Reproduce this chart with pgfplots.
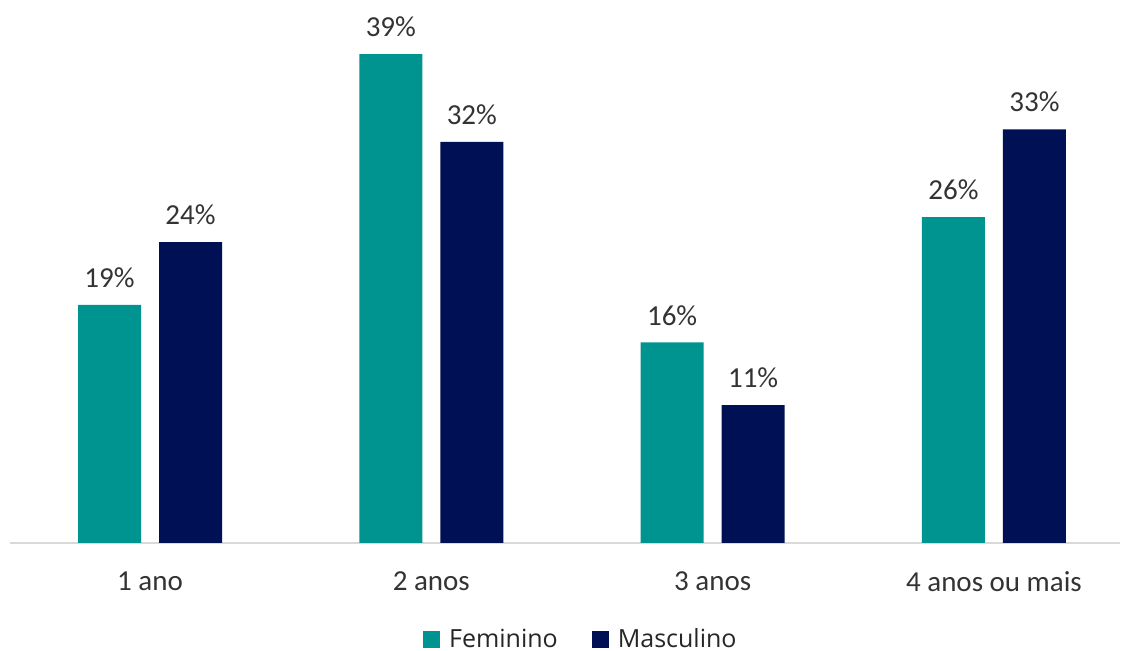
\documentclass[border=0pt]{standalone}
\usepackage{pgfplots}
\pgfplotsset{compat=1.18}
\usepackage{fontspec}
\setmainfont{Carlito}
\newfontfamily\legfont{Open Sans}
\definecolor{teal1}{HTML}{009490}
\definecolor{navy1}{HTML}{001055}
\definecolor{axgray}{HTML}{D9D9D9}
\begin{document}
\begin{tikzpicture}
\begin{axis}[
  at={(0,0)}, anchor=south west,
  scale only axis,
  width=555pt, height=257pt,
  xmin=-0.4977, xmax=3.448,
  ymin=0, ymax=41,
  ybar=9pt, bar width=31.5pt,
  axis y line=none,
  axis x line*=bottom,
  x axis line style={draw=axgray, line width=0.9pt, -},
  xtick={0,1,2,3}, xtick style={draw=none},
  xticklabels={1 ano, 2 anos, 3 anos, 4 anos ou mais},
  xticklabel style={font=\fontsize{14.5}{16}\selectfont, text=black!80, yshift=-6.5pt},
  clip=false,
  nodes near coords,
  point meta=explicit symbolic,
  every node near coord/.append style={font=\fontsize{14.5}{16}\selectfont, text=black!80, yshift=5pt},
  legend style={at={(0.5152,-0.188)}, anchor=center, draw=none, fill=none,
    legend columns=2, font=\legfont\fontsize{12.5}{14}\selectfont, text=black!85,
    /tikz/every even column/.append style={column sep=15pt},
    /tikz/every odd column/.append style={column sep=2.5pt},
    inner sep=0pt},
  legend image code/.code={\fill[#1, draw=none] (0pt,-4.25pt) rectangle (8.5pt,4.25pt);},
]
\addplot[fill=teal1, draw=none] coordinates {(0,19) [19\%] (1,39) [39\%] (2,16) [16\%] (3,26) [26\%]};
\addplot[fill=navy1, draw=none] coordinates {(0,24) [24\%] (1,32) [32\%] (2,11) [11\%] (3,33) [33\%]};
\legend{Feminino, Masculino}
\end{axis}
\pgfresetboundingbox
\path[use as bounding box] (-5pt,-54pt) rectangle (555.5pt,271.5pt);
\end{tikzpicture}
\end{document}
